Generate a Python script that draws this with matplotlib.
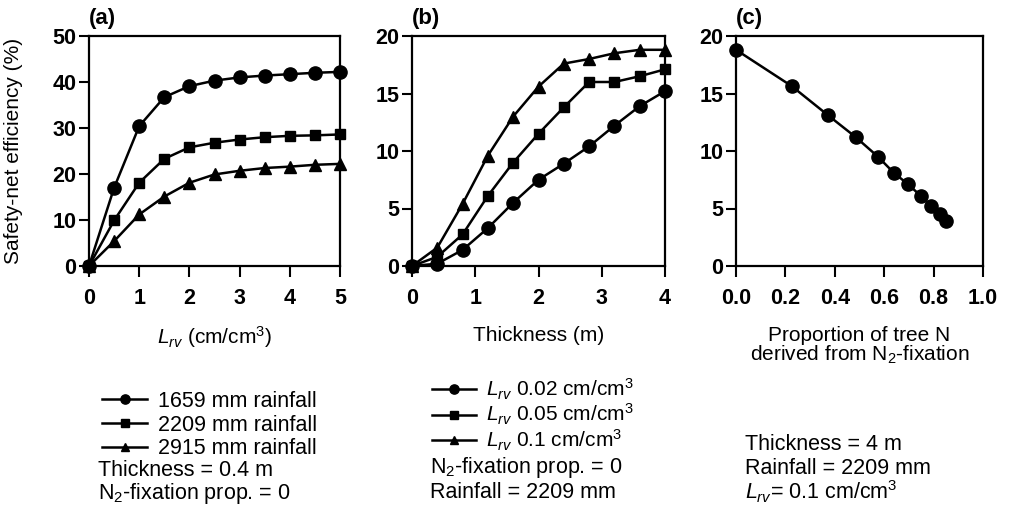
"""
Safety-net efficiency vs root length density, layer thickness and N2-fixation.
"""

import matplotlib
matplotlib.use('Agg')
import matplotlib.pyplot as plt

# Panel (a): safety-net efficiency vs L_rv for three rainfall levels
lrv_a = [0, 0.5, 1.0, 1.5, 2.0, 2.5, 3.0, 3.5, 4.0, 4.5, 5.0]
eff_1659 = [0, 17.0, 30.4, 36.7, 39.1, 40.3, 41.0, 41.4, 41.7, 42.0, 42.2]
eff_2209 = [0, 9.9, 18.1, 23.3, 25.8, 26.8, 27.5, 28.0, 28.3, 28.4, 28.6]
eff_2915 = [0, 5.4, 11.2, 15.1, 18.1, 19.9, 20.7, 21.3, 21.6, 22.0, 22.2]

# Panel (b): efficiency vs thickness for three L_rv values
thick_b = [0, 0.4, 0.8, 1.2, 1.6, 2.0, 2.4, 2.8, 3.2, 3.6, 4.0]
eff_lrv002 = [0, 0.2, 1.4, 3.3, 5.5, 7.5, 8.9, 10.4, 12.2, 13.9, 15.2]
eff_lrv005 = [0, 0.8, 2.75, 6.1, 9.0, 11.5, 13.8, 16.0, 16.0, 16.5, 17.1]
eff_lrv01 = [0, 1.6, 5.4, 9.6, 13.0, 15.6, 17.6, 18.0, 18.5, 18.8, 18.8]

# Panel (c): efficiency vs proportion of tree N from N2-fixation
prop_c = [0.0, 0.225, 0.373, 0.485, 0.575, 0.639, 0.697, 0.748, 0.791, 0.825, 0.849]
eff_c = [18.8, 15.65, 13.1, 11.2, 9.5, 8.1, 7.1, 6.1, 5.2, 4.5, 3.9]

labels_a = ['1659 mm rainfall', '2209 mm rainfall', '2915 mm rainfall']
labels_b = [r'$L_{rv}$ 0.02 cm/cm$^3$', r'$L_{rv}$ 0.05 cm/cm$^3$', r'$L_{rv}$ 0.1 cm/cm$^3$']
notes_a = ['Thickness = 0.4 m', r'N$_2$-fixation prop. = 0']
notes_b = [r'N$_2$-fixation prop. = 0', 'Rainfall = 2209 mm']
notes_c = ['Thickness = 4 m', 'Rainfall = 2209 mm', r'$L_{rv}$= 0.1 cm/cm$^3$']

plt.rcParams.update({
    'font.family': ['Liberation Sans', 'DejaVu Sans'],
    'mathtext.fontset': 'custom',
    'mathtext.rm': 'Liberation Sans',
    'mathtext.it': 'Liberation Sans:italic',
    'mathtext.bf': 'Liberation Sans:bold',
    'axes.linewidth': 1.6,
    'xtick.major.width': 1.5, 'ytick.major.width': 1.5,
    'xtick.major.size': 8, 'ytick.major.size': 7,
    'xtick.major.pad': 8, 'ytick.major.pad': 2,
    'xtick.labelsize': 15.5, 'ytick.labelsize': 15.5,
})

W, H = 1013, 507
fig = plt.figure(figsize=(W / 100, H / 100), dpi=100)


def px_axes(left, right, top=36, bottom=266):
    return fig.add_axes([left / W, 1 - bottom / H, (right - left) / W, (bottom - top) / H])


ax_a = px_axes(89, 340)
ax_b = px_axes(412, 665)
ax_c = px_axes(736, 983)

line_kw = dict(color='black', lw=1.8, clip_on=False, zorder=3)
markers = ['o', 's', '^']
msizes = [9.5, 7.5, 9]

lines_a = []
for y, m, ms, lab in zip([eff_1659, eff_2209, eff_2915], markers, msizes, labels_a):
    ln, = ax_a.plot(lrv_a, y, marker=m, ms=ms, label=lab, **line_kw)
    lines_a.append(ln)

lines_b = []
for y, m, ms, lab in zip([eff_lrv002, eff_lrv005, eff_lrv01], markers, msizes, labels_b):
    ln, = ax_b.plot(thick_b, y, marker=m, ms=ms, label=lab, **line_kw)
    lines_b.append(ln)

ax_c.plot(prop_c, eff_c, marker='o', ms=9.5, **line_kw)

ax_a.set_xlim(0, 5)
ax_a.set_ylim(0, 50)
ax_a.set_xticks(range(0, 6))
ax_a.set_yticks(range(0, 51, 10))

ax_b.set_xlim(0, 4)
ax_b.set_ylim(0, 20)
ax_b.set_xticks(range(0, 5))
ax_b.set_yticks(range(0, 21, 5))

ax_c.set_xlim(0, 1.0)
ax_c.set_ylim(0, 20)
ax_c.set_xticks([0.0, 0.2, 0.4, 0.6, 0.8, 1.0])
ax_c.set_xticklabels(['0.0', '0.2', '0.4', '0.6', '0.8', '1.0'])
ax_c.set_yticks(range(0, 21, 5))

for ax, tag in zip([ax_a, ax_b, ax_c], ['(a)', '(b)', '(c)']):
    ax.tick_params(direction='out', top=False, right=False)
    for lab in ax.get_xticklabels() + ax.get_yticklabels():
        lab.set_fontweight('bold')
    ax.text(0.0, 1.03, tag, transform=ax.transAxes, fontsize=16, fontweight='bold',
            ha='left', va='bottom')

ax_a.set_ylabel('Safety-net efficiency (%)', fontsize=15, va='center')
ax_a.yaxis.set_label_coords(-0.30, 0.5)
ax_a.set_xlabel(r'$L_{rv}$ (cm/cm$^3$)', fontsize=15, labelpad=11)
ax_b.set_xlabel('Thickness (m)', fontsize=15, labelpad=12)
ax_c.set_xlabel('Proportion of tree N\n' + r'derived from N$_2$-fixation', fontsize=15,
                labelpad=12, linespacing=0.95)

leg_kw = dict(loc='upper left', frameon=False, handlelength=2.1,
              handletextpad=0.5, borderpad=0, borderaxespad=0, markerscale=0.7)
fig.legend(handles=lines_a, bbox_to_anchor=(102 / W, 1 - 391 / H), fontsize=15.5,
           labelspacing=0.12, **leg_kw)
fig.legend(handles=lines_b, bbox_to_anchor=(432 / W, 1 - 377 / H), fontsize=15,
           labelspacing=0.0, **leg_kw)

for txt, yc in zip(notes_a, [471, 493]):
    fig.text(98 / W, 1 - yc / H, txt, fontsize=15.5, ha='left', va='center')
for txt, yc in zip(notes_b, [468, 492]):
    fig.text(430 / W, 1 - yc / H, txt, fontsize=15.5, ha='left', va='center')
for txt, yc in zip(notes_c, [445, 468, 492]):
    fig.text(745 / W, 1 - yc / H, txt, fontsize=15.5, ha='left', va='center')

fig.savefig('out.png', dpi=100)
